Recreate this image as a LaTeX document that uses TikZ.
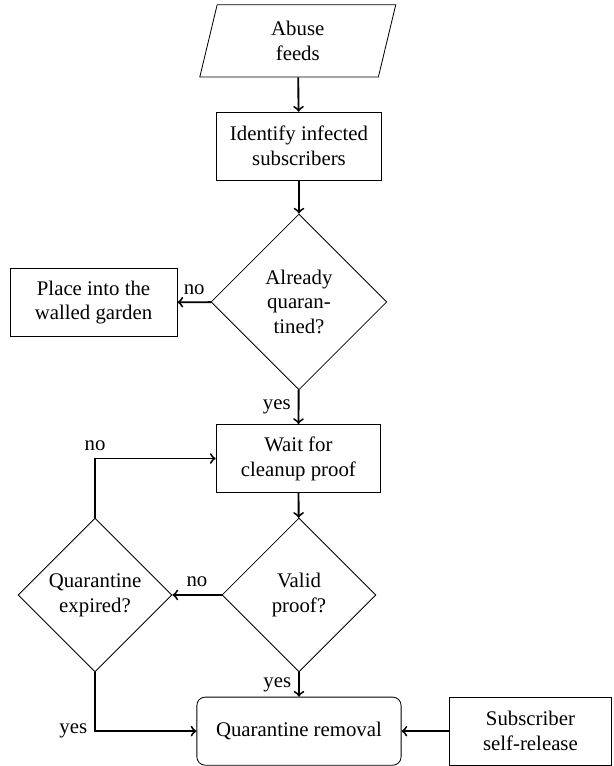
\documentclass[tikz,border=0pt]{standalone}
\usepackage{fontspec}
\setmainfont{Liberation Serif}
\usetikzlibrary{shapes.geometric}

\begin{document}
\begin{tikzpicture}[
  box/.style={draw, rectangle, align=center, minimum width=2.78cm, minimum height=1.15cm},
  decision/.style={draw, diamond, align=center, inner sep=1pt, minimum size=2.6cm},
  feed/.style={draw, trapezium, trapezium left angle=72, trapezium right angle=108,
    trapezium stretches body, align=center, minimum width=3.31cm, minimum height=1.22cm},
  flow/.style={->, line width=0.9pt}
]
\useasboundingbox (0,0) rectangle (10.355,-12.939);

% Main column
\node[feed] (feeds) at (5.03,-0.69) {Abuse\\feeds};
\node[box] (identify) at (5.05,-2.47) {Identify infected\\subscribers};
\node[decision, minimum size=2.97cm] (already) at (5.05,-5.10) {Already\\quaran-\\tined?};
\node[box, minimum width=2.82cm] (place) at (1.58,-5.11) {Place into the\\walled garden};
\node[box] (wait) at (5.04,-7.745) {Wait for\\cleanup proof};
\node[decision] (valid) at (5.05,-10.05) {Valid\\proof?};
\node[decision] (expired) at (1.605,-10.05) {Quarantine\\expired?};
\node[box, rounded corners, minimum width=3.45cm] (removal) at (5.05,-12.35) {Quarantine removal};
\node[box, minimum width=2.75cm] (release) at (8.96,-12.35) {Subscriber\\self-release};

% Connectors
\draw[flow] (feeds) -- (identify);
\draw[flow] (identify) -- (already);
\draw[flow] (already) -- node[above] {no} (place);
\draw[flow] (already) -- node[left] {yes} (wait);
\draw[flow] (wait) -- (valid);
\draw[flow] (valid) -- node[above] {no} (expired);
\draw[flow] (valid) -- node[left] {yes} (removal);
\draw[flow] (expired) |- node[above, pos=0.5] {no} (wait);
\draw[flow] (expired) |- node[left, pos=0.5] {yes} (removal);
\draw[flow] (release) -- (removal);
\end{tikzpicture}
\end{document}
